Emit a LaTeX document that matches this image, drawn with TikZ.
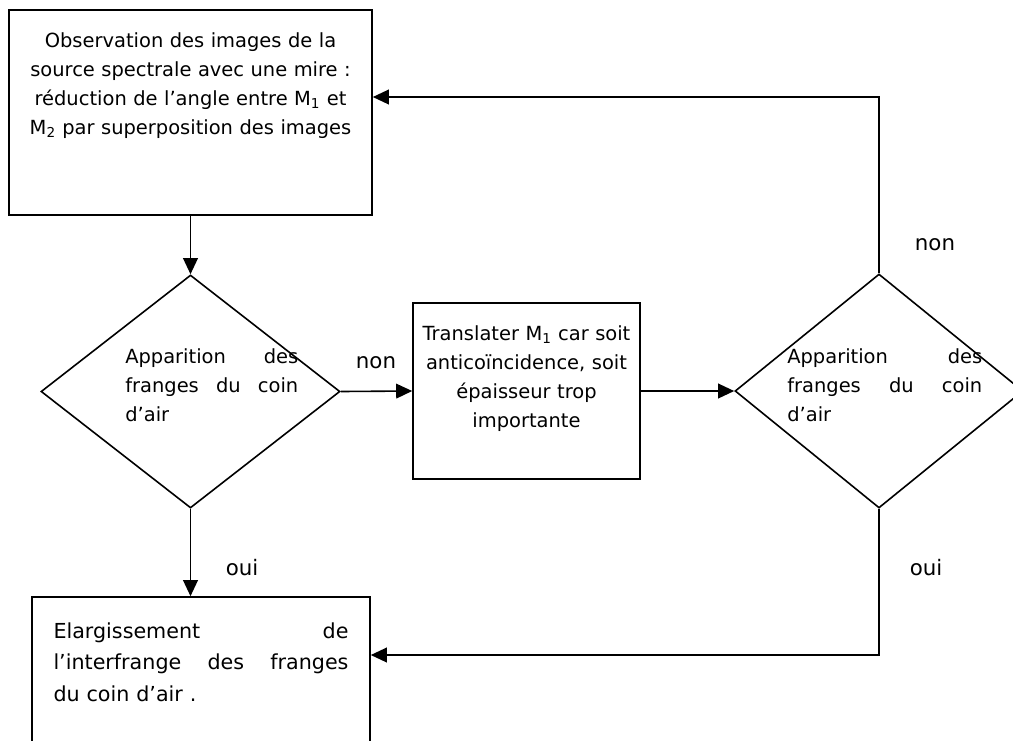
\documentclass[tikz,border=0pt]{standalone}
\usepackage{fontspec}
\setmainfont{DejaVu Sans}
\usetikzlibrary{arrows.meta,shapes.geometric}
\def\px{0.75pt}
\tikzset{
	boite/.style={draw,line width=1.2pt,inner sep=0pt,font=\fontsize{14.6}{21.75}\selectfont},
	losange/.style={draw,diamond,line width=1.2pt,inner sep=0pt},
	texte/.style={inner sep=0pt,align=left,font=\fontsize{14.6}{21.75}\selectfont},
	etiq/.style={inner sep=0pt,font=\fontsize{16}{19}\selectfont},
	fleche/.style={line width=1.2pt,-{Triangle[length=12pt,width=11pt]}}
}

\begin{document}
\begin{tikzpicture}[x=\px,y=-\px]
		\useasboundingbox (0,0) rectangle (1013,740);
		\clip (0,0) rectangle (1013,740);
		\node[boite,minimum width=363*\px,minimum height=205*\px,text width=350*\px,align=center] (obs) at (190.5,112.5)
			{Observation des images de la\\source spectrale avec une mire :\\réduction de l’angle entre M\textsubscript{1} et\\M\textsubscript{2} par superposition des images\\~\\~};
		\node[losange,minimum width=299*\px,minimum height=233*\px] (q1) at (190.5,391.5) {};
		\node[texte,text width=173*\px,anchor=north west] (q1txt) at (125,348) {Apparition\hfill des\\franges\hfill du\hfill coin\\d’air};
		\node[boite,minimum width=227*\px,minimum height=176*\px,text width=220*\px,align=center] (transl) at (526.5,391)
			{Translater M\textsubscript{1} car soit\\anticoïncidence, soit\\épaisseur trop\\importante\\~};
		\node[losange,minimum width=288*\px,minimum height=234*\px] (q2) at (879,391) {};
		\node[texte,text width=195*\px,anchor=north west] (q2txt) at (787,348) {Apparition\hfill des\\franges\hfill du\hfill coin\\d’air};
		\node[boite,minimum width=338*\px,minimum height=193*\px,text width=295*\px,align=left,font=\fontsize{15.5}{23.6}\selectfont] (elarg) at (201,693.5)
			{Elargissement\hfill de\\l’interfrange\hfill des\hfill franges\\du coin d’air .\\~\\~};
		\coordinate (retour) at (879,97);
		\coordinate (bas) at (879,655);
		\draw[fleche] (obs.south) -- (q1.north);
		\draw[fleche] (q1.east) -- (transl.west);
		\draw[fleche] (transl.east) -- (q2.west);
		\draw[fleche] (q2.north) -- (retour) -- (retour -| obs.east);
		\draw[fleche] (q1.south) -- (q1.south |- elarg.north);
		\draw[fleche] (q2.south) -- (bas) -- (bas -| elarg.east);
		\node[etiq] (non1) at (376,363) {non};
		\node[etiq] (non2) at (935,245) {non};
		\node[etiq] (oui1) at (242,568) {oui};
		\node[etiq] (oui2) at (926,568) {oui};
	\end{tikzpicture}
\end{document}
